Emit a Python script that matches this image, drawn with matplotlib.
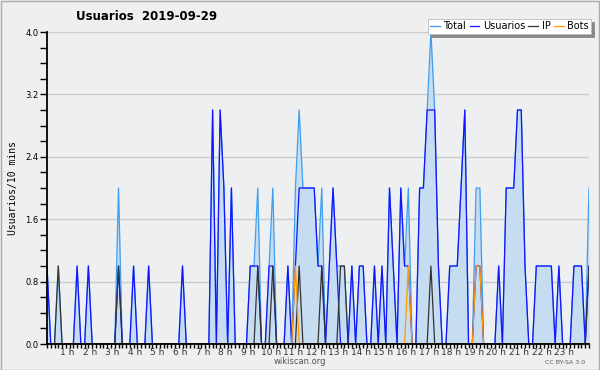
import numpy as np
import matplotlib
matplotlib.use("Agg")
import matplotlib.pyplot as plt
from matplotlib.patches import Rectangle

# usuarios por intervalo de 10 minutos, 2019-09-29 (0:00 .. 24:00)
total = [1, 0, 0, 1, 0, 0, 0, 0, 1, 0,
         0, 1, 0, 0, 0, 0, 0, 0, 0, 2,
         0, 0, 0, 1, 0, 0, 0, 1, 0, 0,
         0, 0, 0, 0, 0, 0, 1, 0, 0, 0,
         0, 0, 0, 0, 3, 0, 3, 2, 0, 2,
         0, 0, 0, 0, 1, 1, 2, 0, 0, 1,
         2, 0, 0, 0, 1, 0, 2, 3, 2, 2,
         2, 2, 1, 2, 0, 1, 2, 1, 1, 1,
         0, 1, 0, 1, 1, 0, 0, 1, 0, 1,
         0, 2, 1, 0, 2, 1, 2, 0, 0, 2,
         2, 3, 4, 3, 1, 0, 0, 1, 1, 1,
         2, 3, 0, 0, 2, 2, 0, 0, 0, 0,
         1, 0, 2, 2, 2, 3, 3, 1, 0, 0,
         1, 1, 1, 1, 1, 0, 1, 0, 0, 0,
         1, 1, 1, 0, 2]
usuarios = [1, 0, 0, 0, 0, 0, 0, 0, 1, 0,
            0, 1, 0, 0, 0, 0, 0, 0, 0, 1,
            0, 0, 0, 1, 0, 0, 0, 1, 0, 0,
            0, 0, 0, 0, 0, 0, 1, 0, 0, 0,
            0, 0, 0, 0, 3, 0, 3, 2, 0, 2,
            0, 0, 0, 0, 1, 1, 1, 0, 0, 1,
            1, 0, 0, 0, 1, 0, 1, 2, 2, 2,
            2, 2, 1, 1, 0, 1, 2, 1, 0, 0,
            0, 1, 0, 1, 1, 0, 0, 1, 0, 1,
            0, 2, 1, 0, 2, 1, 1, 0, 0, 2,
            2, 3, 3, 3, 1, 0, 0, 1, 1, 1,
            2, 3, 0, 0, 1, 1, 0, 0, 0, 0,
            1, 0, 2, 2, 2, 3, 3, 1, 0, 0,
            1, 1, 1, 1, 1, 0, 1, 0, 0, 0,
            1, 1, 1, 0, 1]
ip = [0, 0, 0, 1, 0, 0, 0, 0, 0, 0,
      0, 0, 0, 0, 0, 0, 0, 0, 0, 1,
      0, 0, 0, 0, 0, 0, 0, 0, 0, 0,
      0, 0, 0, 0, 0, 0, 0, 0, 0, 0,
      0, 0, 0, 0, 0, 0, 0, 0, 0, 0,
      0, 0, 0, 0, 0, 0, 1, 0, 0, 0,
      1, 0, 0, 0, 0, 0, 0, 1, 0, 0,
      0, 0, 0, 1, 0, 0, 0, 0, 1, 1,
      0, 0, 0, 0, 0, 0, 0, 0, 0, 0,
      0, 0, 0, 0, 0, 0, 0, 0, 0, 0,
      0, 0, 1, 0, 0, 0, 0, 0, 0, 0,
      0, 0, 0, 0, 0, 0, 0, 0, 0, 0,
      0, 0, 0, 0, 0, 0, 0, 0, 0, 0,
      0, 0, 0, 0, 0, 0, 0, 0, 0, 0,
      0, 0, 0, 0, 1]
bots = [0, 0, 0, 0, 0, 0, 0, 0, 0, 0,
        0, 0, 0, 0, 0, 0, 0, 0, 0, 0,
        0, 0, 0, 0, 0, 0, 0, 0, 0, 0,
        0, 0, 0, 0, 0, 0, 0, 0, 0, 0,
        0, 0, 0, 0, 0, 0, 0, 0, 0, 0,
        0, 0, 0, 0, 0, 0, 0, 0, 0, 0,
        0, 0, 0, 0, 0, 0, 1, 0, 0, 0,
        0, 0, 0, 0, 0, 0, 0, 0, 0, 0,
        0, 0, 0, 0, 0, 0, 0, 0, 0, 0,
        0, 0, 0, 0, 0, 0, 1, 0, 0, 0,
        0, 0, 0, 0, 0, 0, 0, 0, 0, 0,
        0, 0, 0, 0, 1, 1, 0, 0, 0, 0,
        0, 0, 0, 0, 0, 0, 0, 0, 0, 0,
        0, 0, 0, 0, 0, 0, 0, 0, 0, 0,
        0, 0, 0, 0, 0]
hours = list(range(1, 24))
hour_labels = [f"{h} h" for h in hours]
yticks = [0.0, 0.8, 1.6, 2.4, 3.2, 4.0]

x = np.arange(len(total))
bg = "#eeeff1"

fig = plt.figure(figsize=(6.0, 3.7), dpi=100, facecolor="#efefef")
ax = fig.add_axes([47 / 600, 1 - 344 / 370, 542 / 600, 312 / 370])
ax.set_facecolor(bg)

# relleno + lineas
ax.fill_between(x, total, 0, color="#c6dcf0", lw=0, zorder=2)
ax.plot(x, total, color="#3d9ef0", lw=0.9, label="Total", zorder=3)
ax.plot(x, usuarios, color="#1414ff", lw=0.9, label="Usuarios", zorder=4)
ax.plot(x, ip, color="#333333", lw=0.9, label="IP", zorder=5)
ax.plot(x, bots, color="#ff9900", lw=0.9, label="Bots", zorder=6)

ax.set_xlim(0, len(total) - 1)
ax.set_ylim(0, 4.0)

# ejes
for s in ["top", "right"]:
    ax.spines[s].set_visible(False)
for s in ["left", "bottom"]:
    ax.spines[s].set_linewidth(1.3)
    ax.spines[s].set_color("black")
    ax.spines[s].set_zorder(10)

ax.set_yticks(yticks)
ax.set_yticklabels([f"{v:.1f}" for v in yticks], fontsize=6)
ax.set_yticks(np.arange(0, 4.01, 0.2), minor=True)
ax.tick_params(axis="y", which="both", length=5, width=1, pad=1, direction="out")
ax.grid(axis="y", color="#cccccc", lw=1, zorder=1)

ax.set_xticks(np.array(hours) * 6 - 0.6)
ax.set_xticklabels(hour_labels, fontsize=6.5, color="#333333")
ax.set_xticks(x, minor=True)
ax.tick_params(axis="x", which="major", length=0, pad=3)
ax.tick_params(axis="x", which="minor", length=3, width=1)

ax.set_ylabel("Usuarios/10 mins", fontsize=7, family="DejaVu Sans Mono", labelpad=5)

leg = ax.legend(ncol=4, loc="upper right", bbox_to_anchor=(591 / 600, 1 - 19 / 370),
                bbox_transform=fig.transFigure, fontsize=7, handlelength=1.0,
                handletextpad=0.35, columnspacing=0.35, borderpad=0.25,
                borderaxespad=0, fancybox=False, shadow={"color": "#888888", "alpha": 1},
                framealpha=1, edgecolor="#bbbbbb")
leg.get_frame().set_linewidth(0.6)
leg.set_zorder(20)

fig.text(76 / 600, 1 - 16 / 370, "Usuarios  2019-09-29", fontsize=8.5,
         fontweight="bold", va="center", ha="left")
fig.text(300 / 600, 1 - 361 / 370, "wikiscan.org", fontsize=6, color="#555555",
         ha="center", va="center")
fig.text(565 / 600, 1 - 362 / 370, "CC BY-SA 3.0", fontsize=4.5, color="#555555",
         ha="center", va="center")

fig.patches.append(Rectangle((0.001, 0.001), 0.997, 0.996, transform=fig.transFigure,
                             fill=False, edgecolor="#aaaaaa", lw=1))

plt.savefig("out.png", dpi=100, facecolor=fig.get_facecolor())
